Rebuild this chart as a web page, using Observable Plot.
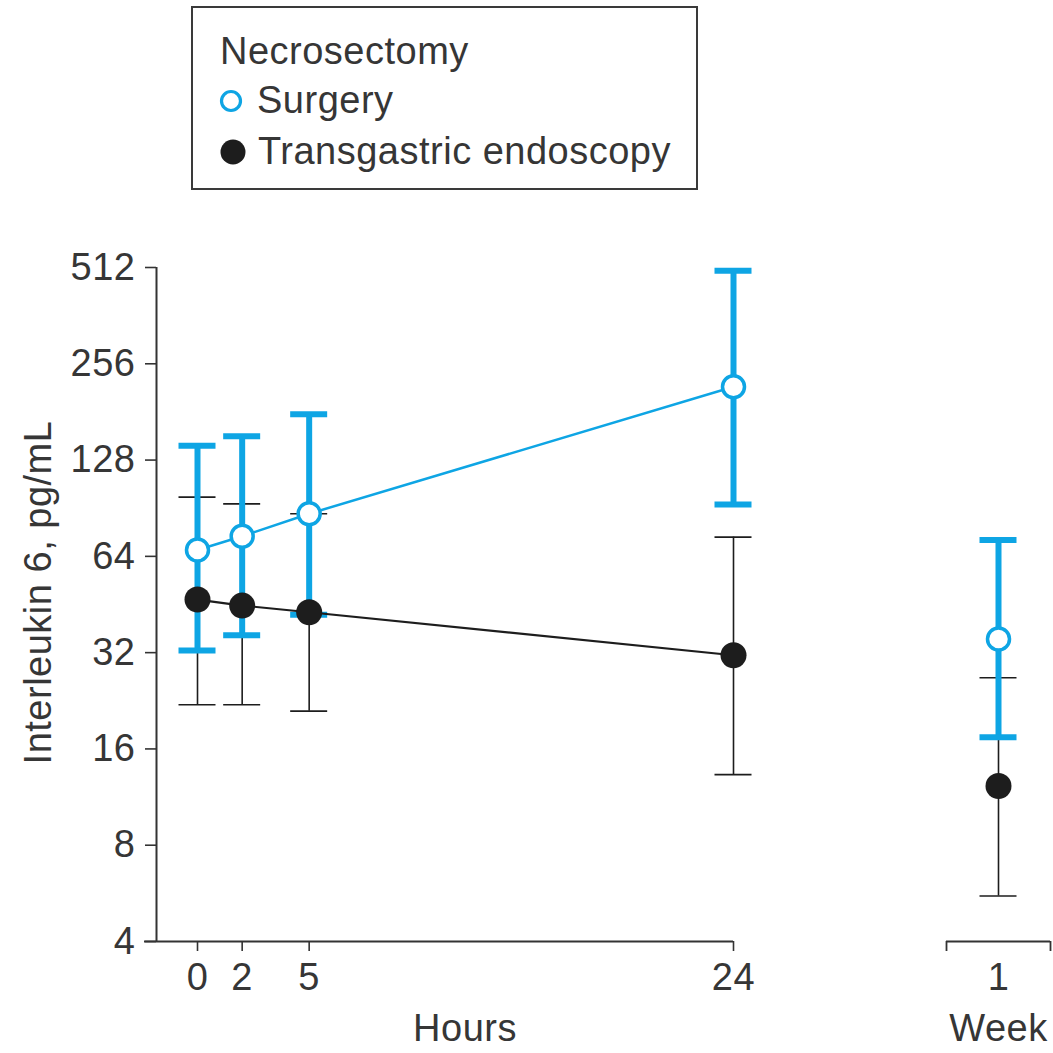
<!DOCTYPE html>
<html>
<head>
<meta charset="utf-8">
<script src="https://cdn.jsdelivr.net/npm/d3@7"></script>
<script src="https://cdn.jsdelivr.net/npm/@observablehq/plot@0.6"></script>
<style>
  html, body { margin: 0; padding: 0; background: #fff; }
  body { width: 1053px; height: 1053px; position: relative; overflow: hidden;
         font-family: "Liberation Sans", Arial, sans-serif; color: #363636; }
  #legend { position: absolute; left: 191px; top: 6px; width: 507px; height: 184px;
            box-sizing: border-box; border: 2px solid #3a3a3a; }
  #legend .t { position: absolute; font-size: 38px; line-height: 38px; white-space: nowrap; letter-spacing: 0.5px; }
  #legend svg { position: absolute; left: 0; top: 0; overflow: visible; }
  #charts { position: absolute; left: 0; top: 200px; display: flex; }
  #charts svg { overflow: visible; letter-spacing: 0.5px; }
</style>
</head>
<body>
<div id="legend"></div>
<div id="charts"></div>
<script>
// ---- data ----
const hours = [0, 2, 5, 24];
const surgeryMean = [67, 74, 87, 217];
const surgeryLow = [32.5, 36.3, 42, 93];
const surgeryHigh = [142, 152, 178, 500];
const endoMean = [46.9, 44.9, 42.8, 31.4];
const endoLow = [22, 22, 21, 13.3];
const endoHigh = [98, 93.4, 87, 73.5];

const weekX = [1];
const surgeryWeekMean = [35.3];
const surgeryWeekLow = [17.4];
const surgeryWeekHigh = [72];
const endoWeekMean = [12.25];
const endoWeekLow = [5.55];
const endoWeekHigh = [26.7];

const yTicks = [4, 8, 16, 32, 64, 128, 256, 512];
const legendTitle = "Necrosectomy";
const seriesNames = ["Surgery", "Transgastric endoscopy"];
const yLabel = "Interleukin 6, pg/mL";
const hoursLabel = "Hours";
const weekLabel = "Week";

const blue = "#0ea5e4";
const dark = "#1d1d1d";
const axisColor = "#333333";
const textColor = "#363636";

function rows(xs, mean, low, high) {
  return xs.map((x, i) => ({x, mean: mean[i], low: low[i], high: high[i]}));
}
const surg = rows(hours, surgeryMean, surgeryLow, surgeryHigh);
const endo = rows(hours, endoMean, endoLow, endoHigh);
const surgW = rows(weekX, surgeryWeekMean, surgeryWeekLow, surgeryWeekHigh);
const endoW = rows(weekX, endoWeekMean, endoWeekLow, endoWeekHigh);

const H = 853, MT = 67, MB = 112;
const FS = 38;
const styleObj = {fontSize: FS + "px", fontFamily: "'Liberation Sans', Arial, sans-serif", color: textColor, overflow: "visible", background: "transparent"};
const yScale = {type: "log", base: 2, domain: [4, 512]};

function seriesMarks(s, e, withLines) {
  const cap = 18.5;
  return [
    // transgastric error bars (behind)
    Plot.ruleX(e, {x: "x", y1: "low", y2: "high", stroke: dark, strokeWidth: 1.6}),
    Plot.ruleY(e, {x1: "x", x2: "x", y: "low", stroke: dark, strokeWidth: 1.6, insetLeft: -cap, insetRight: -cap}),
    Plot.ruleY(e, {x1: "x", x2: "x", y: "high", stroke: dark, strokeWidth: 1.6, insetLeft: -cap, insetRight: -cap}),
    // surgery error bars
    Plot.ruleX(s, {x: "x", y1: "low", y2: "high", stroke: blue, strokeWidth: 6}),
    Plot.ruleY(s, {x1: "x", x2: "x", y: "low", stroke: blue, strokeWidth: 6, insetLeft: -cap, insetRight: -cap}),
    Plot.ruleY(s, {x1: "x", x2: "x", y: "high", stroke: blue, strokeWidth: 6, insetLeft: -cap, insetRight: -cap}),
    withLines ? Plot.line(s, {x: "x", y: "mean", stroke: blue, strokeWidth: 2.5}) : null,
    Plot.dot(s, {x: "x", y: "mean", r: 11, fill: "white", stroke: blue, strokeWidth: 3.5}),
    withLines ? Plot.line(e, {x: "x", y: "mean", stroke: dark, strokeWidth: 2.2}) : null,
    Plot.dot(e, {x: "x", y: "mean", r: 13, fill: dark, stroke: "none"})
  ];
}

// ---- hours panel ----
const xMin = -1.836;
const left = Plot.plot({
  width: 760, height: H,
  marginLeft: 156, marginRight: 27, marginTop: MT, marginBottom: MB,
  style: styleObj,
  x: {type: "linear", domain: [xMin, 24]},
  y: yScale,
  marks: [
    Plot.ruleY([4], {stroke: axisColor, strokeWidth: 2, insetLeft: -12}),
    Plot.ruleX([xMin], {stroke: axisColor, strokeWidth: 2}),
    Plot.axisY({ticks: yTicks, tickFormat: d => String(d), tickSize: 11, tickPadding: 10, label: null, stroke: axisColor, strokeWidth: 1.6}),
    Plot.axisX({ticks: hours, tickFormat: d => String(d), tickSize: 10, tickPadding: 12, label: null, stroke: axisColor, strokeWidth: 1.6}),
    ...seriesMarks(surg, endo, true),
    Plot.text([hoursLabel], {frameAnchor: "bottom", dx: 20, dy: 99, fontSize: FS, fill: textColor}),
    Plot.text([yLabel], {frameAnchor: "left", textAnchor: "middle", rotate: -90, dx: -118, dy: -12, fontSize: FS, fill: textColor})
  ]
});

// ---- week panel ----
const right = Plot.plot({
  width: 293, height: H,
  marginLeft: 186, marginRight: 3, marginTop: MT, marginBottom: MB,
  style: styleObj,
  x: {type: "linear", domain: [0, 2]},
  y: {...yScale, axis: null},
  marks: [
    Plot.ruleY([4], {stroke: axisColor, strokeWidth: 2}),
    Plot.axisX({ticks: [0, 2], tickFormat: () => "", tickSize: 10, label: null, stroke: axisColor, strokeWidth: 1.8}),
    Plot.axisX({ticks: weekX, tickFormat: d => String(d), tickSize: 0, tickPadding: 22, label: null}),
    ...seriesMarks(surgW, endoW, false),
    Plot.text([weekLabel], {frameAnchor: "bottom", dy: 99, fontSize: FS, fill: textColor})
  ]
});

const charts = document.getElementById("charts");
charts.appendChild(left);
charts.appendChild(right);

// ---- legend ----
const legend = document.getElementById("legend");
function addText(txt, l, baseline) {
  const d = document.createElement("div");
  d.className = "t";
  d.textContent = txt;
  d.style.left = l + "px";
  d.style.top = (baseline - 32.2 - 8) + "px";
  legend.appendChild(d);
}
addText(legendTitle, 220 - 193, 64);
addText(seriesNames[0], 257 - 193, 113);
addText(seriesNames[1], 258 - 193, 164);
const ns = "http://www.w3.org/2000/svg";
const lsvg = document.createElementNS(ns, "svg");
lsvg.setAttribute("width", "503"); lsvg.setAttribute("height", "180");
const c1 = document.createElementNS(ns, "circle");
c1.setAttribute("cx", 231 - 193); c1.setAttribute("cy", 101 - 8); c1.setAttribute("r", 9.5);
c1.setAttribute("fill", "white"); c1.setAttribute("stroke", blue); c1.setAttribute("stroke-width", 3.2);
const c2 = document.createElementNS(ns, "circle");
c2.setAttribute("cx", 233 - 193); c2.setAttribute("cy", 152 - 8); c2.setAttribute("r", 12.5);
c2.setAttribute("fill", dark);
lsvg.appendChild(c1); lsvg.appendChild(c2);
legend.appendChild(lsvg);
</script>
</body>
</html>
